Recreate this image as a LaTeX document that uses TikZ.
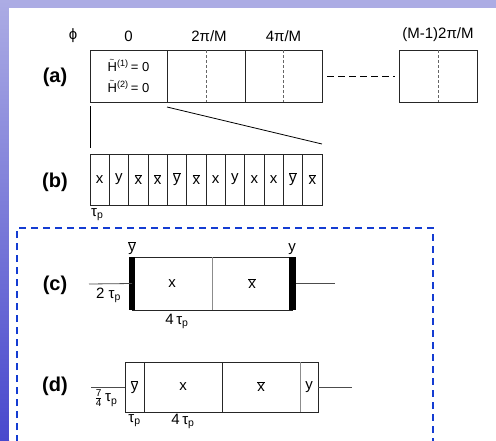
\documentclass[tikz,border=0pt]{standalone}
\usepackage{fontspec}
\setmainfont{Liberation Sans}
\usetikzlibrary{positioning}
\definecolor{SlideLilac}{RGB}{172,172,228}
\definecolor{SlideBlue}{RGB}{72,72,205}
\definecolor{FrameBlue}{RGB}{20,60,210}
\newcommand{\ob}[1]{\ensuremath{\overline{\mbox{#1}}}}
\newcommand{\tp}{τ\textsubscript{p}}
\newcommand{\Ht}{\makebox[0pt][l]{\hspace{2pt}\raisebox{8.5pt}{\fontsize{8}{8}\selectfont\textasciitilde}}H}
\tikzset{
  cell/.style={draw=black!85,line width=0.8pt,inner sep=0pt,outer sep=0pt,
    font=\fontsize{15}{17}\selectfont},
  slot/.style={inner sep=0pt,outer sep=0pt,font=\fontsize{15}{17}\selectfont},
  lbl/.style={inner sep=1pt,font=\fontsize{15}{17}\selectfont},
  tag/.style={inner sep=0pt,font=\bfseries\fontsize{20}{22}\selectfont},
  wire/.style={draw=black!70,line width=0.8pt},
  divider/.style={draw=black!45,line width=0.8pt},
  midline/.style={draw=black!60,line width=0.8pt,dash pattern=on 3pt off 2pt},
  frame/.style={draw=FrameBlue,line width=1.6pt,dash pattern=on 7pt off 5pt},
}
\begin{document}
\begin{tikzpicture}[x=1pt,y=-1pt]
  \useasboundingbox (0,0) rectangle (496,440);
  % slide background
  \fill[SlideLilac] (0,0) rectangle (496,440);
  \shade[top color=SlideLilac,bottom color=SlideBlue] (0,0) rectangle (9,440);
  \fill[white] (9,8) rectangle (496,440);

  % (a) phase cycle
  \node[cell,minimum width=77pt,minimum height=52pt,align=center,
    font=\fontsize{13}{15}\selectfont] (a1) at (128.5,76)
    {\Ht\textsuperscript{(1)}\,= 0\\[6pt]
     \Ht\textsuperscript{(2)}\,= 0};
  \node[cell,minimum width=78pt,minimum height=52pt] (a2) at (206,76) {};
  \node[cell,minimum width=77pt,minimum height=52pt] (a3) at (283.5,76) {};
  \node[cell,minimum width=78pt,minimum height=52pt] (aM) at (438,76) {};
  \foreach \c in {a2,a3,aM}
    \draw[midline] (\c.north) -- (\c.south);
  \draw[line width=1pt,dash pattern=on 7pt off 4pt] ([xshift=5pt]a3.east) -- ([xshift=-4pt]aM.west);
  \node[lbl] (phi) at (73,36) {ϕ};
  \node[lbl,above=7pt of a1.north] (ph0) {0};
  \node[lbl,above=7pt of a2.north,xshift=3pt] (ph1) {2π/M};
  \node[lbl,above=7pt of a3.north] (ph2) {4π/M};
  \node[lbl,above=7pt of aM.north] (phM) {(M-1)2π/M};
  \node[tag] (taga) at (55,77) {(a)};

  % (b) pulse train
  \foreach \s [count=\i] in {x,y,\ob{x},\ob{x},\ob{y},\ob{x},x,y,x,x,\ob{y},\ob{x}}
    \node[cell,minimum width=19.333pt,minimum height=51pt] (b\i) at ({90+19.333*(\i-0.5)},179.5) {\s};
  \draw[line width=0.8pt] ([yshift=-4pt]a1.south west) -- ([yshift=6pt]b1.north west);
  \draw[line width=0.8pt] ([yshift=-5pt]a1.south east) -- ([yshift=10pt]b12.north east);
  \node[lbl,anchor=north west,yshift=-2pt] (tpb) at (b1.south west) {\tp};
  \node[tag] (tagb) at (55,182) {(b)};

  % dashed frame
  \draw[frame] (17,442) -- (17,228) -- (433,228) -- (433,442);

  % (c) composite pulse
  \node[slot,minimum width=80pt,minimum height=53pt] (cx) at (172,283.5) {x};
  \node[slot,minimum width=80pt,minimum height=53pt] (cxb) at (252,283.5) {\ob{x}};
  \draw[cell] (cx.north west) rectangle (cxb.south east);
  \draw[divider] (cx.north east) -- (cx.south east);
  \draw[line width=6pt] (cx.north west) -- (cx.south west);
  \draw[line width=7pt] (cxb.north east) -- (cxb.south east);
  \coordinate (c-in) at (89,284);
  \coordinate (c-out) at (335,283.5);
  \draw[wire] (c-in) -- (cx.west) node[lbl,midway,below=3pt,xshift=-2pt] (c-pre) {2 \tp};
  \draw[wire] ([xshift=4pt]cxb.east) -- (c-out);
  \node[lbl,above=1pt of cx.north west] (cyb) {\ob{y}};
  \node[lbl,above=1pt of cxb.north east] (cy) {y};
  \node[lbl,below=3pt of cx.south,xshift=5pt] (c-len) {4\,\tp};
  \node[tag] (tagc) at (55,285) {(c)};

  % (d) windowed composite pulse
  \node[slot,minimum width=19pt,minimum height=50pt] (d1) at (134.5,387) {\ob{y}};
  \node[slot,minimum width=78pt,minimum height=50pt] (d2) at (183,387) {x};
  \node[slot,minimum width=78pt,minimum height=50pt] (d3) at (261,387) {\ob{x}};
  \node[slot,minimum width=18pt,minimum height=50pt] (d4) at (309,387) {y};
  \draw[cell] (d1.north west) rectangle (d4.south east);
  \foreach \c in {d1,d2}
    \draw[cell] (\c.north east) -- (\c.south east);
  \draw[divider] (d3.north east) -- (d3.south east);
  \coordinate (d-in) at (91,387);
  \coordinate (d-out) at (352,387);
  \draw[wire] (d-in) -- (d1.west) node[lbl,midway,below=1pt,xshift=-2pt] (d-pre)
    {\ensuremath{\frac{\mbox{\fontsize{10}{10}\selectfont 7}}{\mbox{\fontsize{10}{10}\selectfont 4}}}\,\tp};
  \draw[wire] (d4.east) -- (d-out);
  \node[lbl,below=1pt of d1.south] (d-tp) {\tp};
  \node[lbl,below=1pt of d2.south] (d-len) {4\,\tp};
  \node[tag] (tagd) at (55,386) {(d)};
\end{tikzpicture}
\end{document}
